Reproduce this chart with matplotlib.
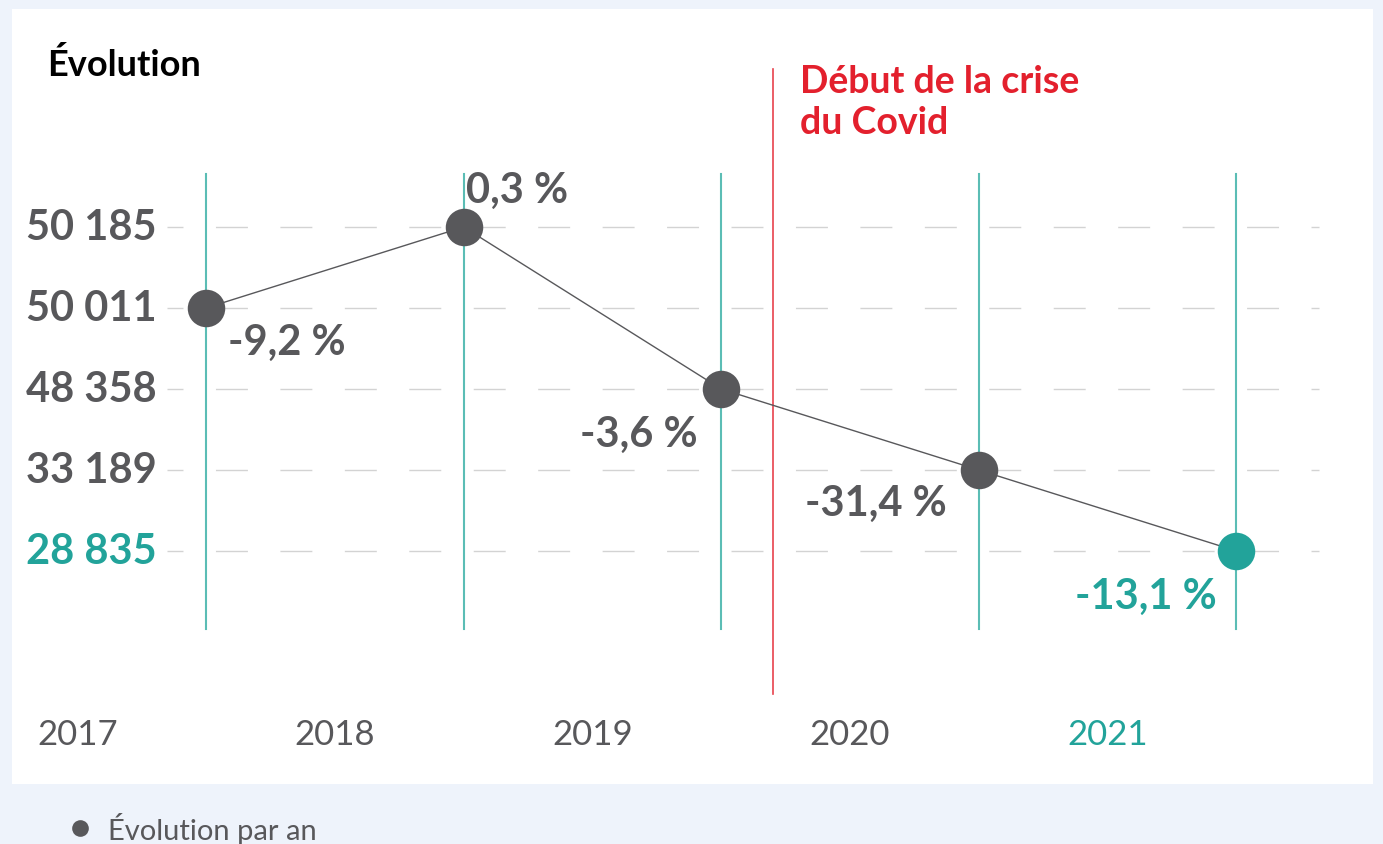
import numpy as np
import matplotlib.pyplot as plt
from matplotlib.patches import Rectangle

# data
years = ['2017', '2018', '2019', '2020', '2021']
values = [50011, 50185, 48358, 33189, 28835]
changes = ['-9,2 %', '0,3 %', '-3,6 %', '-31,4 %', '-13,1 %']
tick_values = sorted(values, reverse=True)   # y axis is ordinal: one row per value
covid_x = 2.2   # start of the covid crisis, between 2019 and 2020 points

grey = '#58585B'
teal = '#22A39A'
teal_line = '#5BBDB5'
red = '#E3202D'
bg = '#EEF3FB'

plt.rcParams['font.family'] = ['Lato', 'DejaVu Sans']

W, H = 1383, 845
fig = plt.figure(figsize=(W/100, H/100), dpi=100, facecolor=bg)
fig.patches.append(Rectangle((12/W, 1-785/H), 1361/W, 775/H, transform=fig.transFigure,
                             facecolor='white', edgecolor='none', zorder=-10))

ax = fig.add_axes([0, 0, 1, 1])
ax.set_facecolor('none')
ax.axis('off')

# pixel mapping: x = 206 + 257.6*k ; y = 228 + 81*rank
x0, sx = 206, 257.6
y0, sy = 228, 81
ax.set_xlim(-x0/sx, (W-x0)/sx)
ax.set_ylim((H-y0)/sy, -y0/sy)

xs = np.arange(len(years))
ys = [tick_values.index(v) for v in values]

# dashed grid rows
for r in range(len(tick_values)):
    ax.plot([-0.15, 4.32], [r, r], color='#D3D3D3', lw=1,
            linestyle=(11.5, (23, 23.4)), zorder=1)

# teal verticals at each point
for k in xs:
    ax.plot([k, k], [-0.654, 4.963], color=teal_line, lw=1.5, zorder=2)

# covid line
ax.plot([covid_x, covid_x], [-1.95, 5.77], color=red, lw=1.2, alpha=0.85, zorder=2)
ax.text(covid_x + 0.105, -1.55, 'Début de la crise\ndu Covid', color=red, fontsize=27,
        fontweight='bold', ha='left', va='center', linespacing=1.25)

# line and points
ax.plot(xs, ys, color=grey, lw=1, zorder=3)
cols = [grey]*4 + [teal]
for k in xs:
    ax.plot(xs[k], ys[k], 'o', color=cols[k], markersize=27, markeredgewidth=0, zorder=4)

# change labels (offsets in points)
offs = [(16, -24.5, 'left'), (1.5, 27, 'left'), (-17, -32, 'right'), (-23, -24, 'right'), (-14, -32, 'right')]
for k in xs:
    dx, dy, ha = offs[k]
    ax.annotate(changes[k], (xs[k], ys[k]), xytext=(dx, dy), textcoords='offset points',
                ha=ha, va='center', fontsize=30, fontweight='bold', color=cols[k], zorder=5)

# y labels
for r, v in enumerate(tick_values):
    lab = f'{v:,}'.replace(',', ' ')
    c = teal if r == len(tick_values) - 1 else grey
    ax.text(-0.193, r, lab, ha='right', va='center', fontsize=30, fontweight='bold', color=c)

# year labels
for k, yr in enumerate(years):
    c = teal if k == len(years) - 1 else grey
    ax.text(k - 0.5, (735 - y0)/sy, yr, ha='center', va='center', fontsize=25, color=c)

# title
fig.text(47/W, 1-65/H, 'Évolution', fontsize=26, fontweight='bold', color='black',
         ha='left', va='center')

# legend
ax.plot([(80 - x0)/sx], [(829 - y0)/sy], 'o', color=grey, markersize=12, markeredgewidth=0,
        clip_on=False)
fig.text(108/W, 1-829/H, 'Évolution par an', fontsize=21, color=grey, ha='left', va='center')

fig.savefig('out.png', dpi=100, facecolor=bg)
